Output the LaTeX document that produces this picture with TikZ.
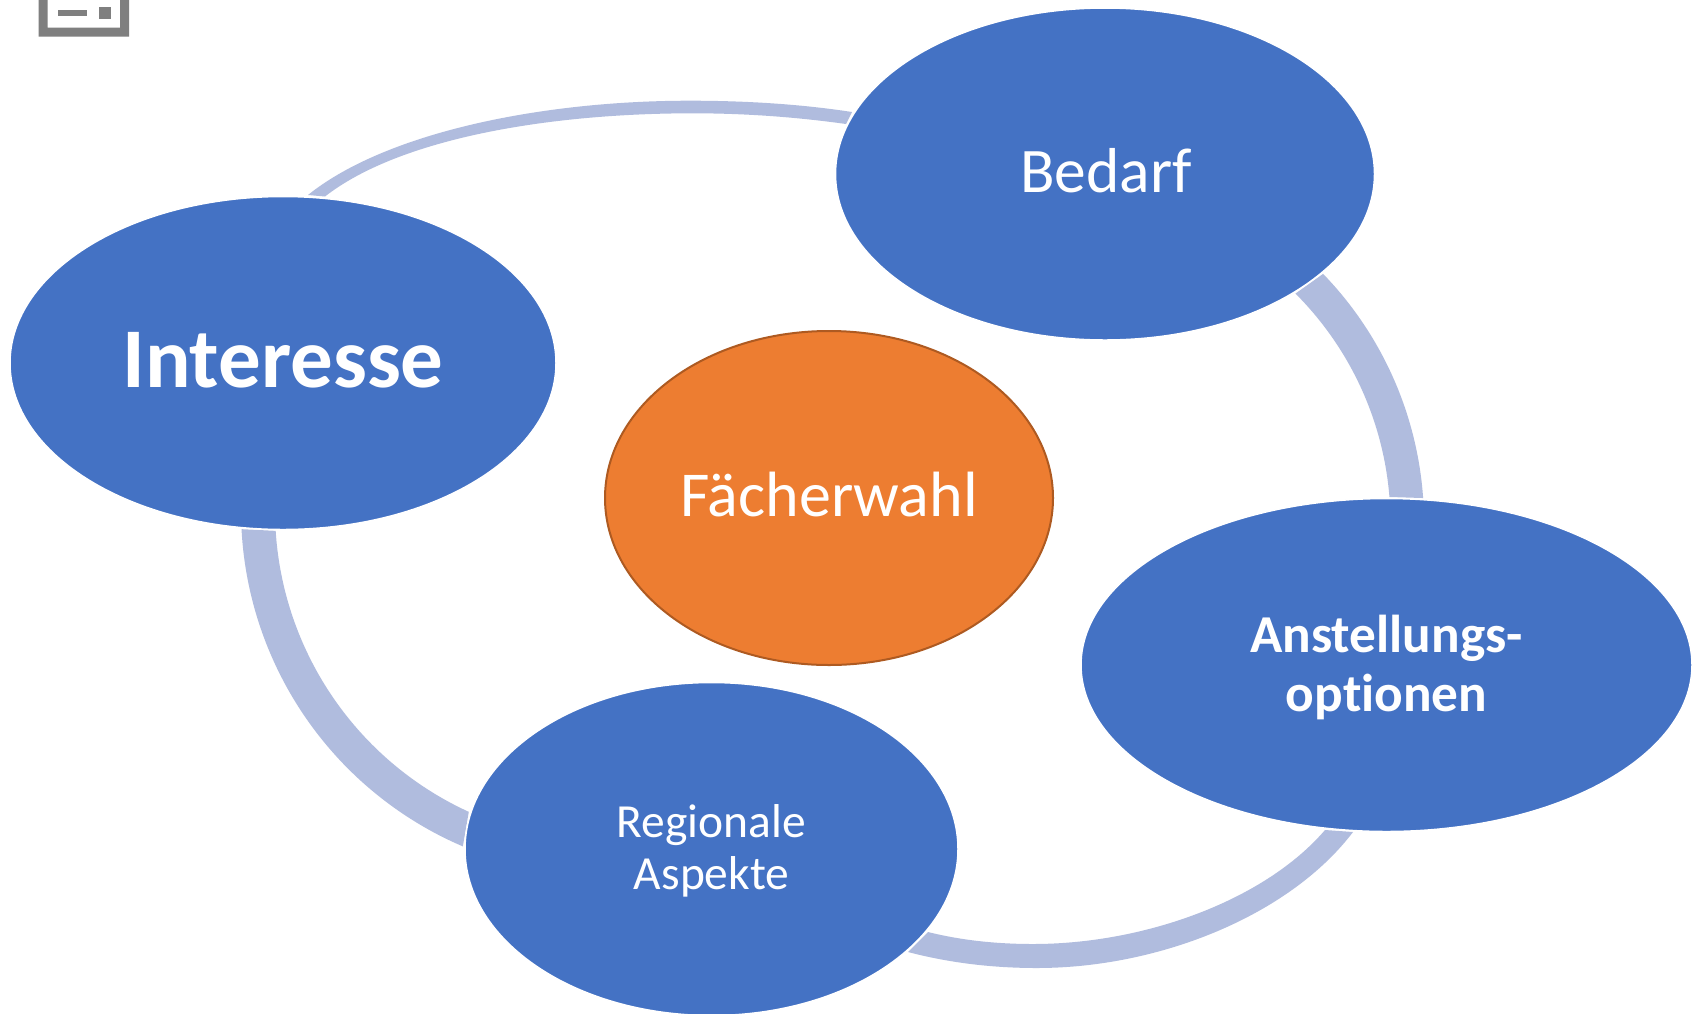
\documentclass[tikz,border=0pt]{standalone}
\usepackage{fontspec}
\setmainfont[Ligatures=NoCommon]{Carlito}
\usetikzlibrary{shapes.geometric}
\definecolor{nodeblue}{HTML}{4472C4}
\definecolor{nodeorange}{HTML}{ED7D31}
\definecolor{orangeedge}{HTML}{AE5A21}
\definecolor{bandblue}{HTML}{B0BCDE}
\definecolor{icongrey}{HTML}{7F7F7F}
\tikzset{
  bubble/.style={ellipse,inner sep=0pt,outer sep=0pt,line width=1.5pt},
  bluebubble/.style={bubble,fill=nodeblue,draw=white},
  orangebubble/.style={bubble,fill=nodeorange,draw=orangeedge,line width=2pt},
  caption/.style={align=center,text=white,inner sep=0pt,outer sep=0pt},
  band/.style={fill=bandblue,draw=none},
  iconpart/.style={fill=icongrey,draw=none}
}
\begin{document}
\begin{tikzpicture}[x=1pt,y=-1pt]
\useasboundingbox (0,0) rectangle (1694,1013);
\clip (0,0) rectangle (1694,1013);
\fill[white] (0,0) rectangle (1694,1013);
% icon
\fill[iconpart,even odd rule] (38.7,-20) rectangle (129,36.7) (47.7,-20) rectangle (120,27.7);
\fill[iconpart] (57.7,10.3) rectangle (87,16.3);
\fill[iconpart] (98.7,7.3) rectangle (110.7,19.3);
% bands
\fill[band] (308,195) .. controls (385,133) and (540,100.7) .. (690,100.7)
  .. controls (745,100.7) and (800,104) .. (852,112) -- (846,124)
  .. controls (796,117) and (745,113.3) .. (693,113.3)
  .. controls (550,113.3) and (400,138) .. (325,196.5) -- cycle;
\fill[band] plot[smooth,samples=40,domain=-44.1:-4.0] ({1066+358*cos(\x)},{523+358*sin(\x)})
  -- plot[smooth,samples=40,domain=-4.6:-45] ({1066+324.5*cos(\x)},{523+324.5*sin(\x)}) -- cycle;
\fill[band] (1353,832) .. controls (1290,915) and (1160,968) .. (1037,968)
  .. controls (993,968) and (950,963) .. (908,952) -- (928,932)
  .. controls (960,940) and (995,944) .. (1033,944)
  .. controls (1145,944) and (1265,900) .. (1325,830) -- cycle;
\fill[band] plot[smooth,samples=40,domain=177:113.2] ({607+366*cos(\x)},{510+366*sin(\x)})
  -- plot[smooth,samples=40,domain=114.6:176.4] ({607+332*cos(\x)},{510+332*sin(\x)}) -- cycle;
% nodes
\node[bluebubble,minimum width=539pt,minimum height=332pt] (bedarf) at (1105,174) {};
\node[bluebubble,minimum width=546pt,minimum height=333pt] (interesse) at (283,363) {};
\node[orangebubble,minimum width=448pt,minimum height=334pt] (faecher) at (829,498) {};
\node[bluebubble,minimum width=611pt,minimum height=333pt] (anstellung) at (1386.5,665) {};
\node[bluebubble,minimum width=493pt,minimum height=333pt] (regional) at (711.5,849) {};
% captions
\node[caption,font=\fontsize{63.5}{64}\selectfont] (bedarftext) at ([xshift=1pt,yshift=3pt]bedarf.center) {Bedarf};
\node[caption,font=\fontsize{85}{85}\selectfont\bfseries] (interessetext) at ([yshift=3pt]interesse.center) {Interesse};
\node[caption,font=\fontsize{64}{64}\selectfont] (faechertext) at ([yshift=3pt]faecher.center) {Fächerwahl};
\node[caption,font=\fontsize{53.3}{59}\selectfont\bfseries] (anstellungtext) at ([yshift=-2pt]anstellung.center) {Anstellungs-\\optionen};
\node[caption,font=\fontsize{47.5}{52}\selectfont] (regionaltext) at ([yshift=-2pt]regional.center) {Regionale\\Aspekte};
\end{tikzpicture}
\end{document}
